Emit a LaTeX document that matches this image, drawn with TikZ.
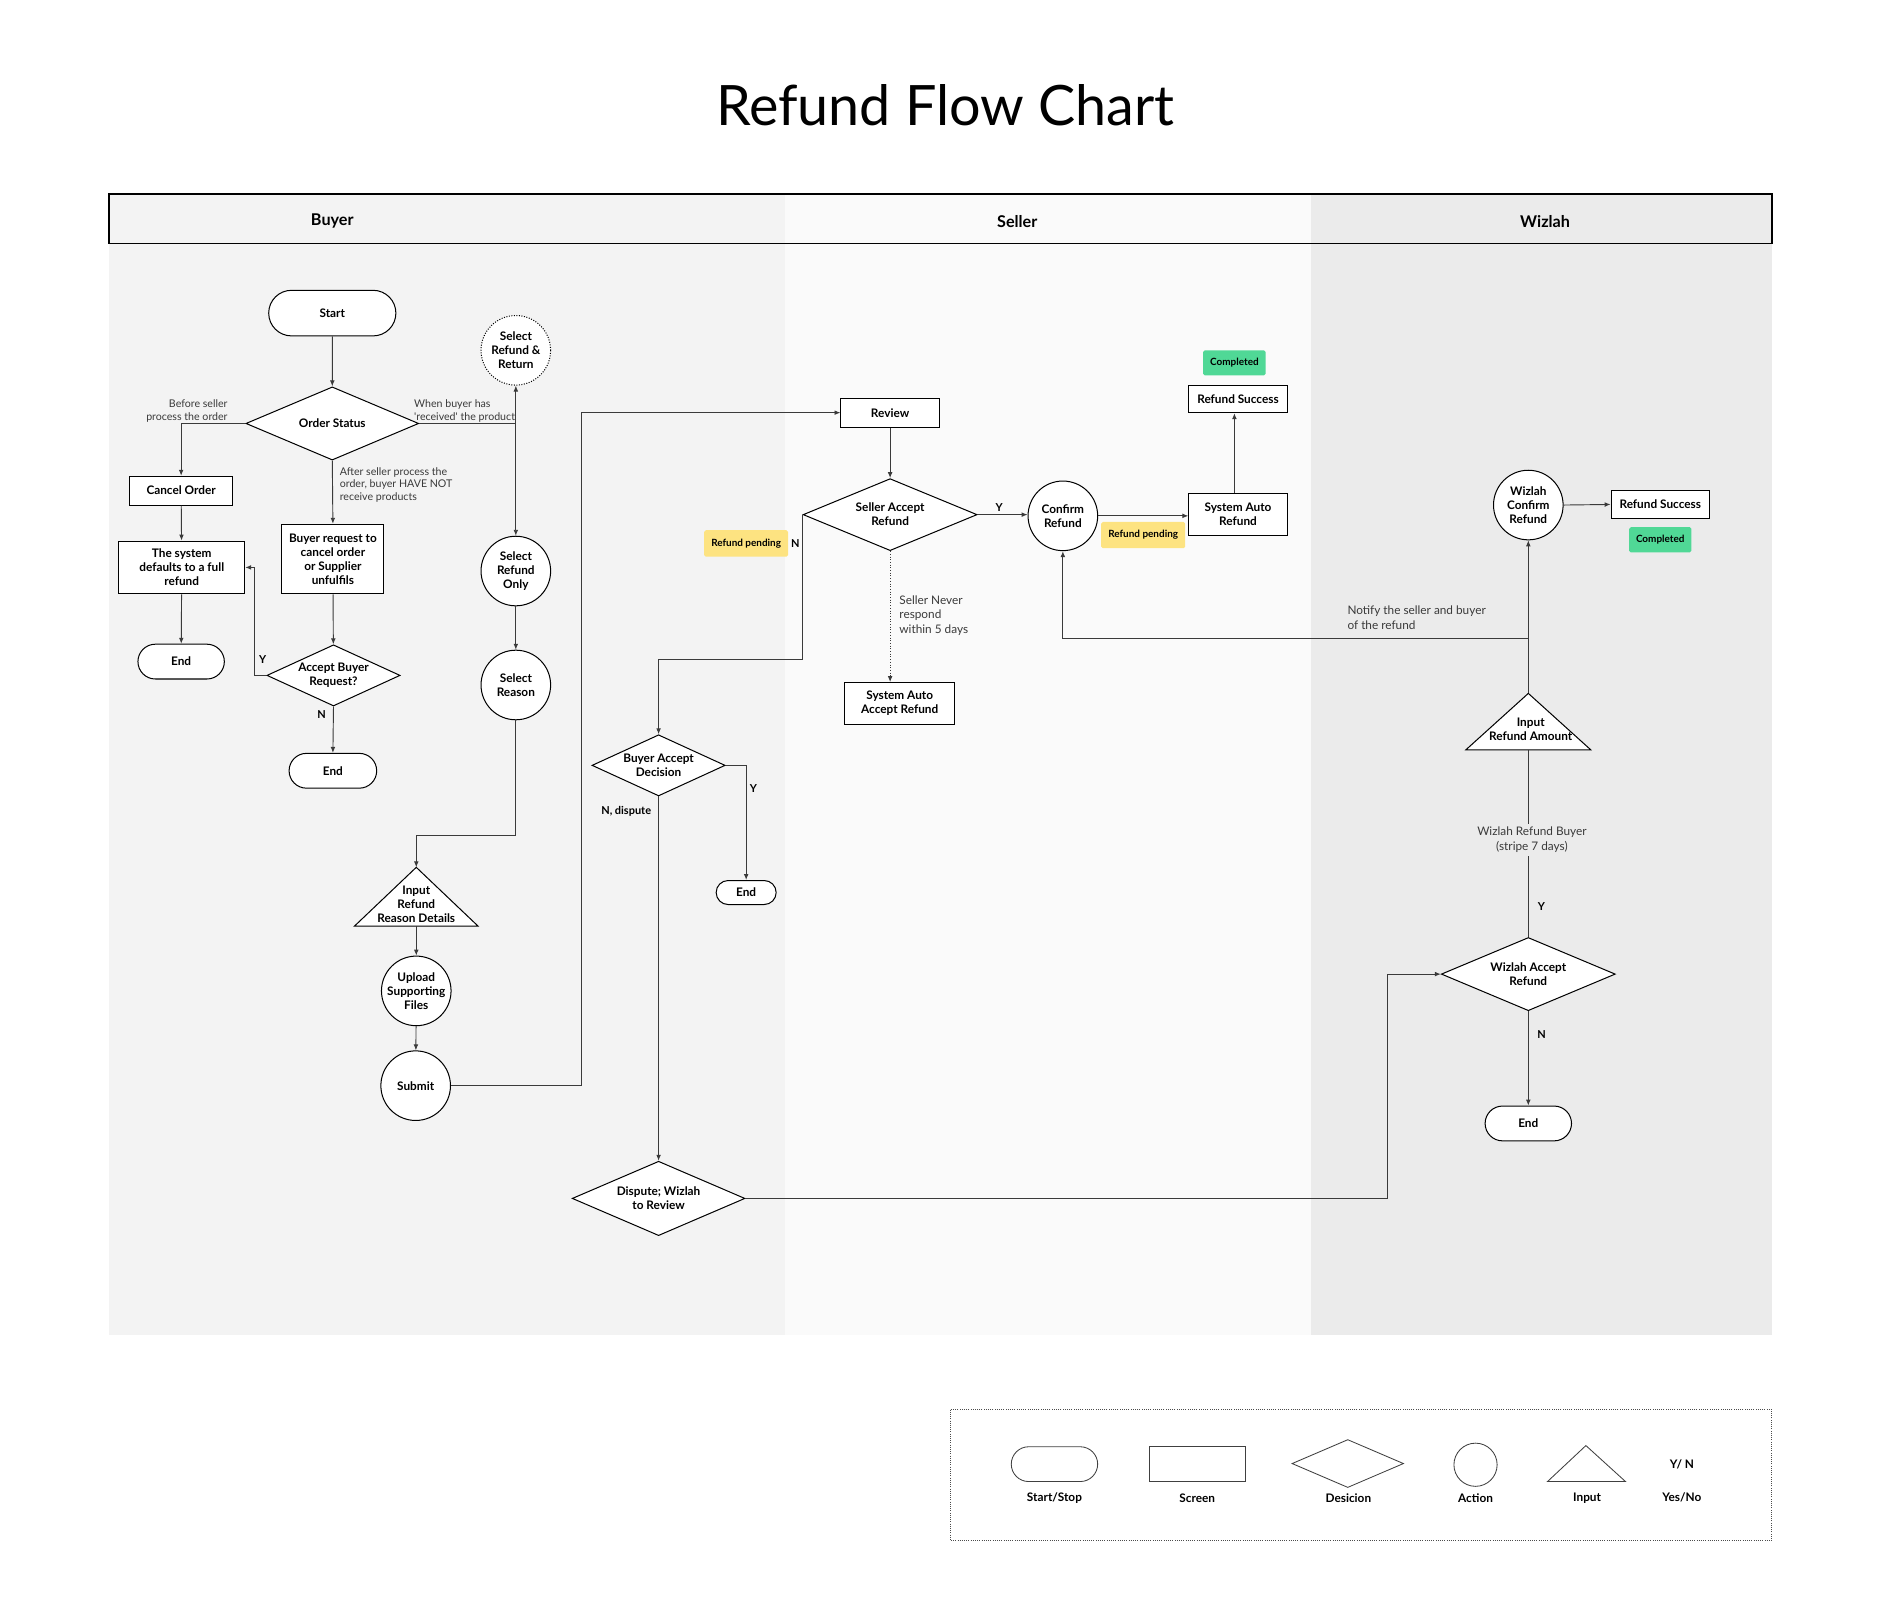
\documentclass[tikz,border=0pt]{standalone}
\usepackage{fontspec}
\setmainfont{Lato}
\usetikzlibrary{shapes.geometric,shapes.misc,arrows.meta}
\definecolor{laneA}{HTML}{F3F3F3}
\definecolor{laneB}{HTML}{FAFAFA}
\definecolor{laneC}{HTML}{EBEBEB}
\definecolor{tagY}{HTML}{FDE381}
\definecolor{tagG}{HTML}{50D896}
\definecolor{ln}{HTML}{3A3A3A}
\tikzset{
  base/.style={draw=black, line width=0.6pt, fill=white, text=black,
    font=\fontsize{7}{8.3}\selectfont\bfseries, align=center, inner sep=0pt},
  term/.style={base, rounded rectangle},
  screen/.style={base, rectangle},
  decis/.style={base, diamond},
  act/.style={base, circle, minimum size=1.45cm},
  shp/.style={draw=black, line width=0.6pt, fill=white},
  ttext/.style={font=\fontsize{7}{8.3}\selectfont\bfseries, align=center, inner sep=0pt},
  bnote/.style={font=\fontsize{6.3}{7.5}\selectfont, text=ln, inner sep=0pt},
  snote/.style={font=\fontsize{7}{8.5}\selectfont, text=ln, inner sep=0pt},
  lbl/.style={font=\fontsize{6.5}{7}\selectfont\bfseries, inner sep=0pt},
  tagy/.style={fill=tagY, rounded corners=1pt, font=\fontsize{5.9}{7}\selectfont\bfseries,
    minimum width=1.75cm, minimum height=0.55cm, inner sep=0pt},
  tagg/.style={fill=tagG, rounded corners=1pt, font=\fontsize{5.9}{7}\selectfont\bfseries,
    minimum width=1.3cm, minimum height=0.525cm, inner sep=0pt},
  flow/.style={draw=ln, line width=0.55pt, -{Latex[length=3.5pt,width=2.8pt]}},
  plain/.style={draw=ln, line width=0.55pt},
  hdr/.style={font=\fontsize{9.6}{11}\selectfont\bfseries, inner sep=0pt},
  leg/.style={draw=black!75, line width=0.5pt, fill=none, inner sep=0pt},
  legtxt/.style={font=\fontsize{7}{8}\selectfont\bfseries, inner sep=0pt},
}
\begin{document}
\begin{tikzpicture}[x=0.025cm, y=-0.025cm]
\useasboundingbox[fill=white] (0,0) rectangle (1568,1353.6);

% title
\node[font=\fontsize{33}{36}\selectfont, inner sep=0pt] (title) at (788,88) {Refund Flow Chart};

% lanes
\fill[laneA] (91,162) rectangle (654,1113);
\fill[laneB] (654,162) rectangle (1093,1113);
\fill[laneC] (1093,162) rectangle (1477,1113);
\draw[line width=1.1pt] (91,162) rectangle (1477,203);
\node[hdr] (hbuyer) at (277,184.5) {Buyer};
\node[hdr] (hseller) at (848,184.5) {Seller};
\node[hdr] (hwizlah) at (1288,184.5) {Wizlah};

% ---------------- Buyer ----------------
\node[term, minimum width=2.65cm, minimum height=0.95cm] (start) at (277,261) {Start};
\node[decis, aspect=2.36, minimum width=3.6cm, minimum height=1.525cm] (os) at (277,353) {Order Status};
\node[base, circle, minimum size=1.45cm, draw=none] (srr) at (430,292) {Select\\Refund \&\\Return};
\draw[line width=0.6pt, dash pattern=on 0.6pt off 0.9pt] (srr) circle[radius=29];
\node[screen, minimum width=2.15cm, minimum height=0.6cm] (cancel) at (151,409) {Cancel Order};
\node[screen, minimum width=2.625cm, minimum height=1.1cm] (sysdef) at (151.5,473) {The system\\defaults to a full\\refund};
\node[term, minimum width=1.8cm, minimum height=0.725cm] (end1) at (151,551.5) {End};
\node[screen, minimum width=2.125cm, minimum height=1.45cm] (breq) at (277.5,466) {Buyer request to\\cancel order\\or Supplier\\unfulfils};
\node[decis, aspect=2.18, minimum width=2.775cm, minimum height=1.275cm] (abr) at (278,563) {Accept Buyer\\Request?};
\node[term, minimum width=1.825cm, minimum height=0.725cm] (end2) at (277.5,642.5) {End};
\node[act] (sro) at (430,476) {Select\\Refund\\Only};
\node[act] (sreason) at (430,571) {Select\\Reason};
\coordinate (irr-top) at (347,723);
\coordinate (irr-bot) at (347,772);
\draw[shp] (irr-top) -- (398.5,772) -- (295.5,772) -- cycle;
\node[ttext] (irr) at (347,753.5) {Input\\Refund\\Reason Details};
\node[act] (upload) at (347,826) {Upload\\Supporting\\Files};
\node[act] (submit) at (346.5,905) {Submit};

\draw[flow] (start) -- (os);
\draw[flow] (os.west) -| (cancel.north);
\node[bnote, anchor=east, align=right] (n-before) at (190,342.5) {Before seller\\process the order};
\coordinate (j1) at (os.east -| srr.south);
\draw[flow] (os.east) -- (j1) -- (srr.south);
\draw[flow] (j1) -- (sro.north);
\node[bnote, anchor=west, align=left] (n-when) at (345,342.5) {When buyer has\\\textquotesingle received\textquotesingle\ the product};
\draw[flow] (os.south) -- (breq.north);
\node[bnote, anchor=west, align=left] (n-after) at (283,404) {After seller process the\\order, buyer HAVE NOT\\receive products};
\draw[flow] (cancel) -- (sysdef);
\draw[flow] (sysdef) -- (end1);
\draw[flow] (breq) -- (abr);
\draw[flow] (abr.west) -- ++(-10,0) |- (sysdef.east);
\node[lbl] (y1) at (219,550) {Y};
\draw[flow] (abr.south) -- (end2.north);
\node[lbl] (n1l) at (268,596) {N};
\draw[flow] (sro) -- (sreason);
\draw[flow] (sreason.south) -- ++(0,96) -| (irr-top);
\draw[flow] (irr-bot) -- (upload.north);
\draw[flow] (upload) -- (submit);

% ---------------- Seller ----------------
\node[screen, minimum width=2.05cm, minimum height=0.6cm] (review) at (742,344) {Review};
\node[decis, aspect=2.42, minimum width=3.625cm, minimum height=1.5cm] (sar) at (742,429) {Seller Accept\\Refund};
\node[tagy] (tag1) at (622,453) {Refund pending};
\node[lbl] (nsar) at (663,453) {N};
\node[lbl] (ysar) at (833,423) {Y};
\node[act] (cr) at (886,430) {Confirm\\Refund};
\node[screen, minimum width=2.05cm, minimum height=0.875cm] (sysauto) at (1032,428.5) {System Auto\\Refund};
\node[tagy] (tag2) at (953,446) {Refund pending};
\node[screen, minimum width=2.05cm, minimum height=0.575cm] (rs1) at (1032,332.5) {Refund Success};
\node[tagg] (comp1) at (1029,302.5) {Completed};
\node[screen, minimum width=2.3cm, minimum height=0.875cm] (saa) at (750,586.5) {System Auto\\Accept Refund};
\node[snote, anchor=west, align=left] (n-never) at (749.5,513) {Seller Never\\respond\\within 5 days};
\node[decis, aspect=2.18, minimum width=2.775cm, minimum height=1.275cm] (bad) at (549,638) {Buyer Accept\\Decision};
\node[term, minimum width=1.25cm, minimum height=0.5cm] (end3) at (622,744) {End};
\node[lbl] (ybad) at (628,657) {Y};
\node[lbl] (nbad) at (522,676) {N, dispute};
\node[decis, aspect=2.32, minimum width=3.6cm, minimum height=1.55cm] (disp) at (549,999) {Dispute; Wizlah\\to Review};

\draw[flow] (submit.east) -- ++(108.5,0) |- (review.west);
\draw[flow] (review) -- (sar);
\draw[flow] (sar.east) -- (sar.east -| cr.west);
\draw[flow] (sar.west) -- ++(0,121) -| (bad.north);
\draw[flow, dash pattern=on 0.6pt off 1pt] (sar.south) -- (saa.north -| sar.south);
\draw[flow] (cr.east) -- (cr.east -| sysauto.west);
\draw[flow] (sysauto.north -| comp1) -- (rs1.south -| comp1);
\draw[flow] (bad.east) -| (end3.north);
\draw[flow] (bad.south) -- (disp.north);

% ---------------- Wizlah ----------------
\node[act] (wc) at (1274,421) {Wizlah\\Confirm\\Refund};
\node[screen, minimum width=2.05cm, minimum height=0.575cm] (rs2) at (1384,420.5) {Refund Success};
\node[tagg] (comp2) at (1384,450) {Completed};
\coordinate (ira-top) at (1274,578);
\coordinate (ira-bot) at (1274,625);
\draw[shp] (ira-top) -- (1326,625) -- (1222,625) -- cycle;
\node[ttext] (ira) at (1276,608) {Input\\Refund Amount};
\node[decis, aspect=2.38, minimum width=3.625cm, minimum height=1.525cm] (wa) at (1274,812) {Wizlah Accept\\Refund};
\node[term, minimum width=1.8cm, minimum height=0.725cm] (end4) at (1274,936.5) {End};
\node[lbl] (ywa) at (1285,756) {Y};
\node[lbl] (nwa) at (1285,862) {N};

\draw[flow] (disp.east) -- ++(535,0) |- (wa.west);
\draw[plain] (wa.north) -- (ira-bot);
\node[snote, fill=laneC, align=center, inner ysep=2pt] (n-wrb) at (1277,700) {Wizlah Refund Buyer\\(stripe 7 days)};
\draw[flow] (ira-top) -- (wc.south);
\coordinate (notif) at (1274,532);
\draw[flow] (notif) -| (cr.south);
\node[snote, anchor=west, align=left] (n-notify) at (1123,515) {Notify the seller and buyer\\of the refund};
\draw[flow] (wc.east) -- (rs2.west);
\draw[flow] (wa.south) -- (end4.north);

% ---------------- Legend ----------------
\draw[draw=black!70, line width=0.5pt, dash pattern=on 0.5pt off 0.8pt] (792,1175) rectangle (1477,1284);
\node[leg, rounded rectangle, minimum width=1.8cm, minimum height=0.725cm] (lterm) at (879,1220.5) {};
\node[leg, rectangle, minimum width=2cm, minimum height=0.725cm] (lscreen) at (998,1220.5) {};
\node[leg, diamond, aspect=2.3, minimum width=2.325cm, minimum height=1cm] (ldec) at (1123.5,1220) {};
\node[leg, circle, minimum size=0.9cm] (lact) at (1230,1221) {};
\draw[draw=black!75, line width=0.5pt] (1322,1205) -- (1355,1235) -- (1290,1235) -- cycle;
\node[legtxt] (lyn) at (1402,1221) {Y/ N};
\node[legtxt] (lt1) at (879,1248.5) {Start/Stop};
\node[legtxt] (lt2) at (998,1248.5) {Screen};
\node[legtxt] (lt3) at (1124,1248.5) {Desicion};
\node[legtxt] (lt4) at (1230,1248.5) {Action};
\node[legtxt] (lt5) at (1323,1248.5) {Input};
\node[legtxt] (lt6) at (1402,1248.5) {Yes/No};
\end{tikzpicture}
\end{document}
